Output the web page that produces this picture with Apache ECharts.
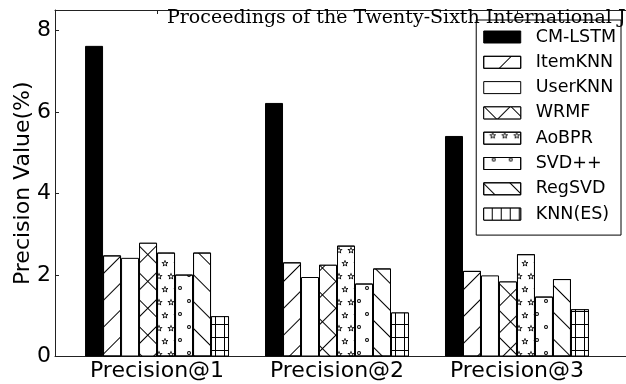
<!DOCTYPE html>
<html>
<head>
<meta charset="utf-8">
<script src="https://cdn.jsdelivr.net/npm/echarts@6/dist/echarts.min.js"></script>
<style>
html,body{margin:0;padding:0;background:#fff;}
#chart{width:626px;height:384px;}
</style>
</head>
<body>
<div id="chart"></div>
<script>
// ---- data ----
const categories = ['Precision@1', 'Precision@2', 'Precision@3'];
const seriesNames = ['CM-LSTM', 'ItemKNN', 'UserKNN', 'WRMF', 'AoBPR', 'SVD++', 'RegSVD', 'KNN(ES)'];
const cmLstm = [7.62, 6.22, 5.41];
const itemKnn = [2.48, 2.31, 2.10];
const userKnn = [2.42, 1.95, 1.99];
const wrmf = [2.79, 2.25, 1.84];
const aobpr = [2.55, 2.72, 2.51];
const svdpp = [2.01, 1.79, 1.47];
const regSvd = [2.55, 2.16, 1.90];
const knnEs = [0.99, 1.08, 1.16];
const yTicks = [0, 2, 4, 6, 8];
const headerText = 'Proceedings of the Twenty-Sixth International J';

// ---- styles ----
function starPath() {
  const pts = (R, r) => {
    const a = [];
    for (let k = 0; k < 10; k++) {
      const rad = k % 2 ? r : R;
      const ang = -Math.PI / 2 + k * Math.PI / 5;
      a.push([10 + rad * Math.cos(ang), 10 + rad * Math.sin(ang)]);
    }
    return a;
  };
  const toD = p => 'M' + p.map(q => q[0].toFixed(2) + ',' + q[1].toFixed(2)).join('L') + 'Z';
  return 'path://' + toD(pts(10, 4.8)) + toD(pts(5.6, 2.3).reverse());
}
const ringPath = 'path://M0,5A5,5,0,1,1,10,5A5,5,0,1,1,0,5ZM2.6,5A2.4,2.4,0,1,0,7.4,5A2.4,2.4,0,1,0,2.6,5Z';

const lineDecal = rot => ({ symbol: 'rect', symbolSize: 1, symbolKeepAspect: false, color: '#000',
  dashArrayX: [1, 0], dashArrayY: [1, 18], rotation: rot });

const styles = [
  { color: '#000' },
  { color: '#fff', decal: lineDecal(-Math.PI / 4) },
  { color: '#fff' },
  { color: '#000', decal: { symbol: 'rect', symbolSize: 1, color: '#fff', dashArrayX: [18, 1], dashArrayY: [18, 1], rotation: Math.PI / 4 } },
  { color: '#fff', decal: { symbol: starPath(), symbolSize: 1.2, symbolKeepAspect: true, color: '#000', dashArrayX: [[6, 6], [0, 6, 6, 0]], dashArrayY: [6, 7], rotation: 0 } },
  { color: '#fff', decal: { symbol: ringPath, symbolSize: 1, symbolKeepAspect: true, color: '#000', dashArrayX: [[4, 13], [0, 8, 4, 5]], dashArrayY: [4, 9], rotation: 0 } },
  { color: '#fff', decal: lineDecal(Math.PI / 4) },
  { color: '#000', decal: { symbol: 'rect', symbolSize: 1, symbolKeepAspect: false, color: '#fff', dashArrayX: [8, 1], dashArrayY: [12, 1], rotation: 0 } }
];
const values = [cmLstm, itemKnn, userKnn, wrmf, aobpr, svdpp, regSvd, knnEs];

const font = 'DejaVu Sans';
const axisColor = '#222';
const xMin = -0.567, xMax = 2.628;

const series = seriesNames.map((name, i) => ({
  name: name,
  type: 'bar',
  xAxisIndex: 0,
  yAxisIndex: 0,
  barWidth: '10%',
  barGap: '0%',
  itemStyle: Object.assign({ borderColor: '#000', borderWidth: 1 }, styles[i]),
  emphasis: { disabled: true },
  data: values[i].map((v, j) => [j, v])
}));

const chart = echarts.init(document.getElementById('chart'), null, { renderer: 'canvas' });
chart.setOption({
  animation: false,
  backgroundColor: '#fff',
  textStyle: { fontFamily: font },
  grid: { left: 55, right: -4, top: 10, bottom: 27.5, containLabel: false, outerBoundsMode: 'none' },
  legend: {
    orient: 'vertical',
    right: 5,
    top: 20,
    padding: [8, 5, 12, 7],
    itemWidth: 37,
    itemHeight: 12,
    itemGap: 7.3,
    icon: 'rect',
    itemStyle: { borderWidth: 1, borderColor: '#000' },
    backgroundColor: '#fff',
    borderColor: '#000',
    borderWidth: 1,
    borderRadius: 0,
    data: seriesNames,
    textStyle: { fontFamily: font, fontSize: 17.5, color: '#000', lineHeight: 18, padding: [0, 0, 0, 10] },
    z: 5
  },
  xAxis: [
    {
      type: 'value', position: 'bottom', min: xMin, max: xMax,
      axisLine: { show: true, onZero: false, lineStyle: { color: axisColor, width: 1 } },
      axisTick: { show: true, inside: true, length: 4, customValues: [0, 1, 2], lineStyle: { color: axisColor } },
      axisLabel: { show: true, customValues: [0, 1, 2], formatter: v => categories[Math.round(v)] || '',
        fontFamily: font, fontSize: 22, color: '#000', margin: 4 },
      splitLine: { show: false }
    },
    {
      type: 'value', position: 'top', min: xMin, max: xMax,
      axisLine: { show: true, onZero: false, lineStyle: { color: axisColor, width: 1 } },
      axisTick: { show: true, inside: true, length: 4, customValues: [0, 1, 2], lineStyle: { color: axisColor } },
      axisLabel: { show: false },
      splitLine: { show: false }
    }
  ],
  yAxis: [
    {
      type: 'value', position: 'left', min: 0, max: 8.5,
      name: 'Precision Value(%)', nameLocation: 'middle', nameRotate: 90, nameGap: 21, nameMoveOverlap: false,
      nameTextStyle: { fontFamily: font, fontSize: 22, color: '#000' },
      axisLine: { show: true, onZero: false, lineStyle: { color: axisColor, width: 1 } },
      axisTick: { show: true, inside: true, length: 4, customValues: yTicks, lineStyle: { color: axisColor } },
      axisLabel: { show: true, customValues: yTicks, fontFamily: font, fontSize: 22, color: '#000', margin: 4 },
      splitLine: { show: false }
    },
    {
      type: 'value', position: 'right', min: 0, max: 8.5,
      axisLine: { show: true, onZero: false, lineStyle: { color: axisColor, width: 1 } },
      axisTick: { show: true, inside: true, length: 4, customValues: yTicks, lineStyle: { color: axisColor } },
      axisLabel: { show: false },
      splitLine: { show: false }
    }
  ],
  graphic: [
    {
      type: 'text', left: 167, top: 9, z: 100, silent: true,
      style: { text: headerText, fontFamily: 'DejaVu Serif', fontSize: 19, fill: '#000' }
    }
  ],
  series: series
});
</script>
</body>
</html>
